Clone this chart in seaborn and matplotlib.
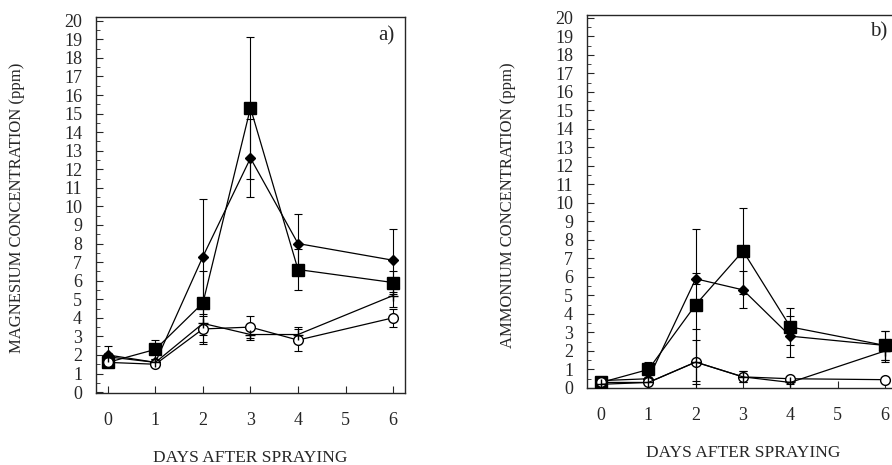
import pandas as pd
import matplotlib
matplotlib.use('Agg')
import matplotlib.pyplot as plt
import seaborn as sns
from matplotlib.ticker import MultipleLocator

# days sampled
days = [0, 1, 2, 3, 4, 6]
series_names = ['diamond', 'square', 'circle', 'plus']

# a) magnesium (ppm)
mg_diamond = [2.0, 1.6, 7.3, 12.6, 8.0, 7.1]
mg_square = [1.6, 2.3, 4.8, 15.3, 6.6, 5.9]
mg_circle = [1.6, 1.5, 3.4, 3.5, 2.8, 4.0]
mg_plus = [1.9, 1.6, 3.7, 3.1, 3.1, 5.2]
mg_diamond_err = [0.5, 0.2, 3.1, 2.1, 1.6, 1.7]
mg_square_err = [0.2, 0.5, 1.7, 3.8, 1.1, 0.6]
mg_circle_err = [0.2, 0.1, 0.7, 0.6, 0.6, 0.5]
mg_plus_err = [0.2, 0.1, 1.1, 0.3, 0.4, 0.6]

# b) ammonium (ppm)
nh_diamond = [0.4, 0.5, 5.9, 5.3, 2.8, 2.3]
nh_square = [0.3, 1.0, 4.5, 7.4, 3.3, 2.3]
nh_circle = [0.3, 0.3, 1.4, 0.6, 0.5, 0.45]
nh_plus = [0.2, 0.3, 1.4, 0.6, 0.3, 2.0]
nh_diamond_err = [0.1, 0.2, 0.3, 1.0, 1.1, 0.8]
nh_square_err = [0.1, 0.4, 4.1, 2.3, 1.0, 0.8]
nh_circle_err = [0.1, 0.1, 1.8, 0.3, 0.1, 0.1]
nh_plus_err = [0.1, 0.1, 1.2, 0.3, 0.1, 0.6]

markers = {'diamond': 'D', 'square': 's', 'circle': 'o', 'plus': '+'}
msizes = {'diamond': 5, 'square': 8, 'circle': 7, 'plus': 7}


def long_df(vals, errs):
    rows = []
    for name, v, e in zip(series_names, vals, errs):
        for d, y, err in zip(days, v, e):
            rows.append({'day': d, 'conc': y, 'err': err, 'series': name})
    return pd.DataFrame(rows)


df_a = long_df([mg_diamond, mg_square, mg_circle, mg_plus],
               [mg_diamond_err, mg_square_err, mg_circle_err, mg_plus_err])
df_b = long_df([nh_diamond, nh_square, nh_circle, nh_plus],
               [nh_diamond_err, nh_square_err, nh_circle_err, nh_plus_err])

sns.set_style('ticks')
plt.rcParams['font.family'] = ['Liberation Serif', 'DejaVu Serif']

fig = plt.figure(figsize=(8.92, 4.65), dpi=100)
ax1 = fig.add_axes([0.1076, 0.1548, 0.3464, 0.8086])
ax2 = fig.add_axes([0.658, 0.1656, 0.350, 0.8021])


def draw(ax, df, xlim, ylim):
    for name in series_names:
        sub = df[df['series'] == name]
        ax.errorbar(sub['day'], sub['conc'], yerr=sub['err'], fmt='none',
                    ecolor='black', elinewidth=0.8, capsize=3, capthick=0.8, zorder=2)
        sns.lineplot(data=sub, x='day', y='conc', ax=ax, color='black',
                     linewidth=0.9, marker=markers[name], markersize=msizes[name],
                     markerfacecolor='white' if name == 'circle' else 'black',
                     markeredgecolor='black', markeredgewidth=1.0, zorder=3,
                     legend=False)
    ax.set_xlim(*xlim)
    ax.set_ylim(*ylim)
    ax.set_xticks([0, 1, 2, 3, 4, 5, 6])
    ax.yaxis.set_major_locator(MultipleLocator(1))
    ax.yaxis.set_minor_locator(MultipleLocator(0.5))
    ax.tick_params(axis='both', direction='in', labelsize=13, width=0.8)
    ax.tick_params(axis='x', pad=14, length=5)
    ax.tick_params(axis='y', which='major', length=5, pad=10)
    ax.tick_params(axis='y', which='minor', length=3, direction='in')
    ax.set_xlabel('')
    ax.set_ylabel('')
    for s in ax.spines.values():
        s.set_linewidth(1.0)


draw(ax1, df_a, (-0.25, 6.25), (-0.05, 20.2))
draw(ax2, df_b, (-0.3, 6.3), (0, 20.15))

ax1.text(0.966, 0.975, 'a)', transform=ax1.transAxes, ha='right', va='top', fontsize=15)
ax2.text(6.05, 19.75, 'b)', ha='right', va='top', fontsize=15)

fig.text(17 / 892, 1 - 208 / 465, 'MAGNESIUM CONCENTRATION (ppm)', rotation=90,
         ha='center', va='center', fontsize=12)
fig.text(508 / 892, 1 - 205 / 465, 'AMMONIUM CONCENTRATION (ppm)', rotation=90,
         ha='center', va='center', fontsize=12)
fig.text(250 / 892, 1 - 458 / 465, 'DAYS AFTER SPRAYING', ha='center', va='center', fontsize=12.5)
fig.text(743 / 892, 1 - 453 / 465, 'DAYS AFTER SPRAYING', ha='center', va='center', fontsize=12.5)

fig.savefig('out.png', dpi=100)
